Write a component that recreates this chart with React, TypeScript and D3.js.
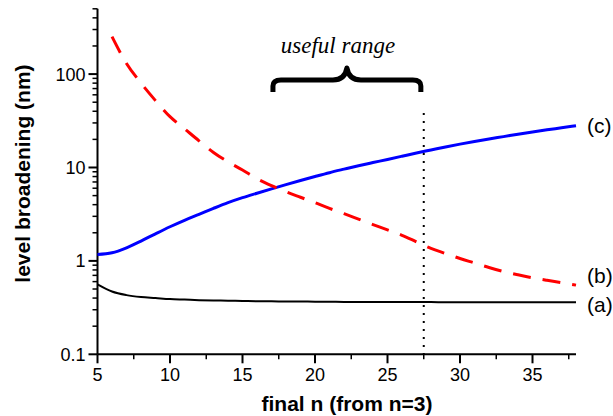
import React from 'react';
import * as d3 from 'd3';

// final n (from n=3)
const nAll = [5, 6, 7, 8, 9, 10, 11, 12, 13, 14, 15, 16, 17, 18, 19, 20, 21, 22, 23, 24, 25, 26, 27, 28, 29, 30, 31, 32, 33, 34, 35, 36, 37, 38];
// (a) black solid
const seriesA = [0.56, 0.47, 0.43, 0.41, 0.4, 0.39, 0.385, 0.38, 0.377, 0.375, 0.372, 0.37, 0.369, 0.368, 0.367, 0.366, 0.365, 0.364, 0.364, 0.363, 0.363, 0.362, 0.362, 0.362, 0.361, 0.361, 0.361, 0.361, 0.36, 0.36, 0.36, 0.36, 0.36, 0.36];
// (c) blue solid
const seriesC = [1.17, 1.22, 1.38, 1.63, 1.95, 2.32, 2.72, 3.15, 3.65, 4.2, 4.75, 5.3, 5.9, 6.55, 7.25, 8.0, 8.8, 9.6, 10.45, 11.3, 12.2, 13.2, 14.3, 15.4, 16.6, 17.8, 19.0, 20.2, 21.4, 22.7, 24.0, 25.3, 26.6, 28.0];
// (b) red dashed, starts at n=6
const nB = [6, 7, 8, 9, 10, 11, 12, 13, 14, 15, 16, 17, 18, 19, 20, 21, 22, 23, 24, 25, 26, 27, 28, 29, 30, 31, 32, 33, 34, 35, 36, 37, 38];
const seriesB = [252, 130, 80, 52, 35, 26, 19.3, 14.5, 11.5, 9.4, 7.6, 6.4, 5.5, 4.8, 4.2, 3.65, 3.2, 2.8, 2.45, 2.15, 1.88, 1.6, 1.36, 1.2, 1.06, 0.95, 0.85, 0.77, 0.71, 0.66, 0.62, 0.585, 0.55];

const xMajor = [5, 10, 15, 20, 25, 30, 35];
const xMinor = [7.5, 12.5, 17.5, 22.5, 27.5, 32.5, 37.5];
const yMajor = [0.1, 1, 10, 100];
const yMajorLabels = ['0.1', '1', '10', '100'];
const seriesLabels = ['(c)', '(b)', '(a)'];
const usefulLimit = 27.5;

export default function App() {
  const W = 613;
  const H = 416;
  const x = d3.scaleLinear().domain([5, 38]).range([97.5, 576]);
  const y = d3.scaleLog().domain([0.1, 500]).range([354.3, 8.8]);
  const yMinor = y.ticks().filter((t) => !yMajor.some((m) => Math.abs(m - t) < 1e-9) && t <= 500);

  const line = d3
    .line<[number, number]>()
    .x((d) => x(d[0]))
    .y((d) => y(d[1]))
    .curve(d3.curveMonotoneX);

  const dA = line(nAll.map((n, i) => [n, seriesA[i]]));
  const dC = line(nAll.map((n, i) => [n, seriesC[i]]));
  const dB = line(nB.map((n, i) => [n, seriesB[i]]));

  const x0 = x(5);
  const yb = y(0.1);
  const font = 'Liberation Sans, Arial, sans-serif';

  // brace over the useful range
  const bL = x(17.1);
  const bR = x(27.3);
  const bM = (bL + bR) / 2;
  const bY = 80;
  const brace = `M${bL},92 L${bL},86 Q${bL},${bY} ${bL + 8},${bY} L${bM - 14},${bY} Q${bM - 2},${bY} ${bM},${bY - 12} Q${bM + 2},${bY} ${bM + 14},${bY} L${bR - 8},${bY} Q${bR},${bY} ${bR},86 L${bR},92`;

  return (
    <svg width={W} height={H} style={{ display: 'block', position: 'absolute', left: 0, top: 0 }}>
      <rect width={W} height={H} fill="#fff" />
      {/* axes */}
      <line x1={x0} x2={x0} y1={y(500)} y2={yb} stroke="#000" strokeWidth={2} />
      <line x1={x0} x2={x(38)} y1={yb} y2={yb} stroke="#000" strokeWidth={2} />
      {yMajor.map((t, i) => (
        <g key={'ym' + t}>
          <line x1={x0 - 9} x2={x0} y1={y(t)} y2={y(t)} stroke="#000" strokeWidth={2} />
          <text x={x0 - 12} y={y(t)} dy="0.36em" textAnchor="end" fontFamily={font} fontSize={18}>
            {yMajorLabels[i]}
          </text>
        </g>
      ))}
      {yMinor.map((t) => (
        <line key={'yn' + t} x1={x0 - 5} x2={x0} y1={y(t)} y2={y(t)} stroke="#000" strokeWidth={1.5} />
      ))}
      {xMajor.map((t) => (
        <g key={'xm' + t}>
          <line x1={x(t)} x2={x(t)} y1={yb} y2={yb + 9} stroke="#000" strokeWidth={2} />
          <text x={x(t)} y={yb + 27} textAnchor="middle" fontFamily={font} fontSize={18}>
            {t}
          </text>
        </g>
      ))}
      {xMinor.map((t) => (
        <line key={'xn' + t} x1={x(t)} x2={x(t)} y1={yb} y2={yb + 5} stroke="#000" strokeWidth={1.5} />
      ))}

      {/* titles */}
      <text
        transform={`translate(22,${(y(500) + yb) / 2 - 8}) rotate(-90)`}
        dy="0.36em"
        textAnchor="middle"
        fontFamily={font}
        fontWeight="bold"
        fontSize={21}
      >
        level broadening (nm)
      </text>
      <text x={347} y={411} textAnchor="middle" fontFamily={font} fontWeight="bold" fontSize={21}>
        final n (from n=3)
      </text>

      {/* dotted line marking end of useful range */}
      <line
        x1={x(usefulLimit)}
        x2={x(usefulLimit)}
        y1={113}
        y2={yb}
        stroke="#000"
        strokeWidth={2}
        strokeDasharray="2,6"
      />

      {/* curves */}
      <path d={dA ?? ''} fill="none" stroke="#000" strokeWidth={2} />
      <path d={dC ?? ''} fill="none" stroke="#0000ff" strokeWidth={3} />
      <path d={dB ?? ''} fill="none" stroke="#ff0000" strokeWidth={3} strokeDasharray="18,12" />

      {/* series labels */}
      <text x={587} y={y(seriesC[seriesC.length - 1])} dy="0.36em" fontFamily={font} fontSize={21}>
        {seriesLabels[0]}
      </text>
      <text x={587} y={y(seriesB[seriesB.length - 1]) - 10} dy="0.36em" fontFamily={font} fontSize={21}>
        {seriesLabels[1]}
      </text>
      <text x={587} y={y(seriesA[seriesA.length - 1]) + 2} dy="0.36em" fontFamily={font} fontSize={21}>
        {seriesLabels[2]}
      </text>

      {/* useful range annotation */}
      <path d={brace} fill="none" stroke="#000" strokeWidth={5} strokeLinejoin="round" />
      <text x={338} y={53} textAnchor="middle" fontFamily="Liberation Serif, Times New Roman, serif" fontStyle="italic" fontSize={23}>
        useful range
      </text>
    </svg>
  );
}
